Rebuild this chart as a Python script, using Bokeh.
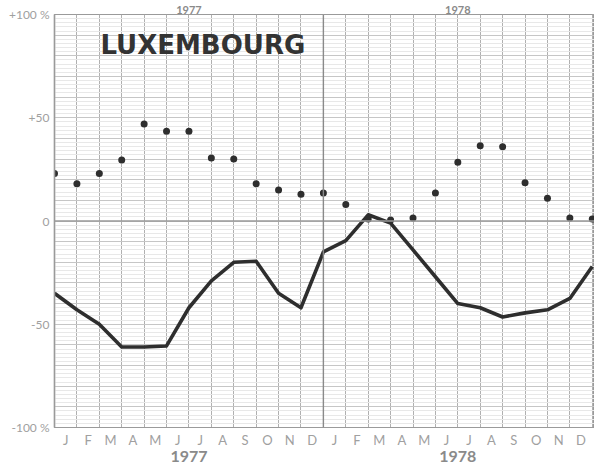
from bokeh.plotting import figure
from bokeh.models import Range1d, FixedTicker, LinearAxis, Span, Label
from bokeh.embed import file_html
from bokeh.resources import INLINE

# ---- data -------------------------------------------------------------
country = "LUXEMBOURG"
month_labels = ["J", "F", "M", "A", "M", "J", "J", "A", "S", "O", "N", "D",
                "J", "F", "M", "A", "M", "J", "J", "A", "S", "O", "N", "D"]
years = ["1977", "1978"]
year_centres = [6, 18]
# month boundaries, Jan 1977 ... Jan 1979
month_index = list(range(25))
dots = [23, 18, 23, 29.5, 47, 43.5, 43.5, 30.5, 30, 18, 15, 13, 13.5,
        8, 1, 0.5, 1.5, 13.5, 28.5, 36.5, 36, 18.5, 11, 1.5, 1]
line_vals = [-35, -43, -50, -61, -61, -60.5, -42, -29, -20, -19.5, -35, -42,
             -15, -9.5, 3, -1, -14, -27, -40, -42, -46.5, -44.5, -43, -37.5, -22]
y_ticks = [-100, -50, 0, 50, 100]
y_tick_labels = ["-100 %", "-50", "0", "+50", "+100 %"]

# ---- figure -----------------------------------------------------------
p = figure(width=594, height=464, output_backend="svg", toolbar_location=None,
           x_range=Range1d(0, 24.1), y_range=Range1d(-100, 100),
           min_border_left=54, min_border_right=0, min_border_top=14,
           min_border_bottom=37, background_fill_color="white",
           border_fill_color="white")
p.outline_line_color = "#9a9a9a"
p.outline_line_width = 1.2

# grids
p.xgrid.ticker = FixedTicker(ticks=month_index)
p.xgrid.grid_line_color = "#b0b0b0"
p.xgrid.grid_line_width = 1
p.ygrid.ticker = FixedTicker(ticks=list(range(-100, 101, 10)),
                             minor_ticks=list(range(-100, 101, 2)))
p.ygrid.grid_line_color = "#c6c6c6"
p.ygrid.minor_grid_line_color = "#e8e8e8"
p.ygrid.grid_line_width = 1

p.add_layout(Span(location=0, dimension="width", line_color="#9a9a9a", line_width=1.3))
p.add_layout(Span(location=12, dimension="height", line_color="#8a8a8a", line_width=1.4))

font = "Lato"
grey = "#a0a0a0"


def year_axis(size, standoff):
    ax = LinearAxis(ticker=FixedTicker(ticks=year_centres),
                    major_label_overrides={c: y for c, y in zip(year_centres, years)})
    ax.axis_line_color = None
    ax.major_tick_line_color = None
    ax.minor_tick_line_color = None
    ax.major_tick_out = 0
    ax.minor_tick_out = 0
    ax.major_label_text_color = "#8a8a8a"
    ax.major_label_text_font = font
    ax.major_label_text_font_style = "bold"
    ax.major_label_text_font_size = size
    ax.major_label_standoff = standoff
    return ax


# y axis
ya = p.yaxis[0]
ya.ticker = FixedTicker(ticks=y_ticks)
ya.major_label_overrides = {t: l for t, l in zip(y_ticks, y_tick_labels)}
ya.major_tick_line_color = None
ya.minor_tick_line_color = None
ya.major_tick_out = 0
ya.minor_tick_out = 0
ya.axis_line_color = "#9a9a9a"
ya.axis_line_width = 1.5
ya.major_label_text_color = grey
ya.major_label_text_font = font
ya.major_label_text_font_size = "12px"
ya.major_label_standoff = 5

# month axis
xa = p.xaxis[0]
ticks = [i + 0.5 for i in range(len(month_labels))]
xa.ticker = FixedTicker(ticks=ticks)
xa.major_label_overrides = {t: l for t, l in zip(ticks, month_labels)}
xa.major_tick_line_color = None
xa.minor_tick_line_color = None
xa.major_tick_out = 0
xa.minor_tick_out = 0
xa.axis_line_color = "#9a9a9a"
xa.major_label_text_color = grey
xa.major_label_text_font = font
xa.major_label_text_font_size = "13px"
xa.major_label_standoff = 4

# year axes (below, and a small one along the top edge)
p.add_layout(year_axis("16px", 0), "below")
p.add_layout(year_axis("11px", 1), "above")

# series
p.line(month_index, line_vals, line_color="#2e2e2e", line_width=3.6,
       line_join="round")
p.scatter(month_index, dots, size=7, fill_color="#2e2e2e", line_color=None)

# title
p.add_layout(Label(x=2.05, y=85, text=country, text_font="DejaVu Sans",
                   text_font_style="bold", text_font_size="26px",
                   text_color="#333333", text_baseline="middle"))

open("out.html", "w").write(file_html(p, INLINE))
